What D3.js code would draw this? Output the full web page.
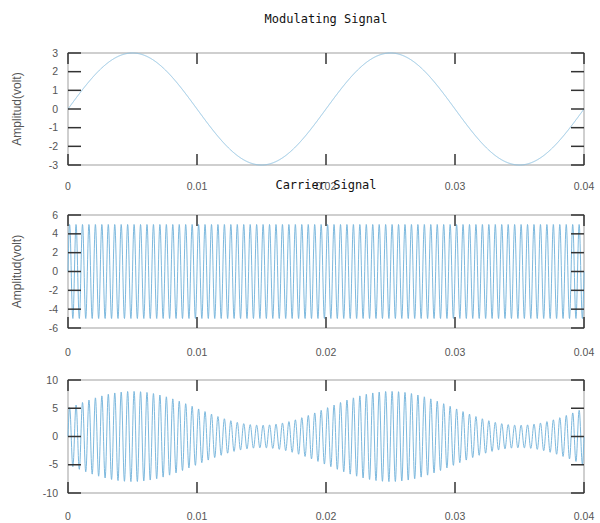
<!DOCTYPE html>
<html>
<head>
<meta charset="utf-8">
<script src="https://cdn.jsdelivr.net/npm/d3@7"></script>
<style>
  body { margin: 0; background: #fff; }
  svg { display: block; }
  .tick-label { font-family: "Liberation Sans", Arial, sans-serif; font-size: 10.5px; fill: #555; }
  .ylabel { font-family: "Liberation Sans", Arial, sans-serif; font-size: 12px; fill: #555; }
  .title { font-family: "DejaVu Sans Mono", monospace; font-size: 12px; fill: #111; }
</style>
</head>
<body>
<svg width="600" height="523"></svg>
<script>
// signal parameters
const timeRange = [0, 0.04];
const timeStep = 0.00002;
const modAmplitude = 3;      // volts
const modFrequency = 50;     // Hz (2 periods in 0.04 s)
const carrierAmplitude = 5;  // volts
const carrierFrequency = 2000; // Hz (~20 cycles per 0.01 s)

const xTicks = [0, 0.01, 0.02, 0.03, 0.04];
const xTickLabels = ["0", "0.01", "0.02", "0.03", "0.04"];
const titles = ["Modulating Signal", "Carrier Signal", ""];
const yLabels = ["Amplitud(volt)", "Amplitud(volt)", ""];
const yDomains = [[-3, 3], [-6, 6], [-10, 10]];
const yTicks = [[-3, -2, -1, 0, 1, 2, 3], [-6, -4, -2, 0, 2, 4, 6], [-10, -5, 0, 5, 10]];

const times = d3.range(timeRange[0], timeRange[1] + timeStep / 2, timeStep);
const modulating = times.map(t => modAmplitude * Math.sin(2 * Math.PI * modFrequency * t));
const carrier = times.map(t => carrierAmplitude * Math.sin(2 * Math.PI * carrierFrequency * t));
const modulated = times.map((t, i) => (carrierAmplitude + modulating[i]) * Math.sin(2 * Math.PI * carrierFrequency * t));
const series = [modulating, carrier, modulated];

const svg = d3.select("svg");
const x = d3.scaleLinear().domain(timeRange).range([68, 584]);
const panels = [
  { top: 53, bottom: 165, labelY: 190, titleY: 23 },
  { top: 215, bottom: 328, labelY: 356, titleY: 189 },
  { top: 380, bottom: 493, labelY: 520, titleY: 0 }
];

panels.forEach((p, k) => {
  const y = d3.scaleLinear().domain(yDomains[k]).range([p.bottom, p.top]);
  const g = svg.append("g");

  // frame
  g.append("rect")
    .attr("x", x.range()[0]).attr("y", p.top)
    .attr("width", x.range()[1] - x.range()[0]).attr("height", p.bottom - p.top)
    .attr("fill", "none").attr("stroke", "#b0b0b0").attr("stroke-width", 1.2);

  // signal
  const line = d3.line().x((d, i) => x(times[i])).y(d => y(d));
  g.append("path")
    .datum(series[k])
    .attr("d", line)
    .attr("fill", "none")
    .attr("stroke", k === 0 ? "#8ec3e3" : "#7db9de")
    .attr("stroke-width", 1);

  // x ticks, inward from top and bottom
  xTicks.forEach(t => {
    g.append("line").attr("x1", x(t)).attr("x2", x(t)).attr("y1", p.bottom).attr("y2", p.bottom - 11)
      .attr("stroke", "#333").attr("stroke-width", 1.5);
    g.append("line").attr("x1", x(t)).attr("x2", x(t)).attr("y1", p.top).attr("y2", p.top + 11)
      .attr("stroke", "#333").attr("stroke-width", 1.5);
  });
  g.selectAll(".xl").data(xTicks).enter().append("text")
    .attr("class", "tick-label")
    .attr("x", d => x(d)).attr("y", p.labelY)
    .attr("text-anchor", "middle")
    .text((d, i) => xTickLabels[i]);

  // y ticks, inward from left and right
  yTicks[k].forEach(v => {
    g.append("line").attr("x1", x.range()[0]).attr("x2", x.range()[0] + 13).attr("y1", y(v)).attr("y2", y(v))
      .attr("stroke", "#333").attr("stroke-width", 1.5);
    g.append("line").attr("x1", x.range()[1]).attr("x2", x.range()[1] - 13).attr("y1", y(v)).attr("y2", y(v))
      .attr("stroke", "#333").attr("stroke-width", 1.5);
  });
  g.selectAll(".yl").data(yTicks[k]).enter().append("text")
    .attr("class", "tick-label")
    .attr("x", 58).attr("y", d => y(d) + 3.5)
    .attr("text-anchor", "end")
    .text(d => d);

  if (yLabels[k]) {
    const cy = (p.top + p.bottom) / 2;
    g.append("text").attr("class", "ylabel")
      .attr("transform", `translate(21,${cy}) rotate(-90)`)
      .attr("text-anchor", "middle")
      .text(yLabels[k]);
  }
  if (titles[k]) {
    g.append("text").attr("class", "title")
      .attr("x", 326).attr("y", p.titleY)
      .attr("text-anchor", "middle")
      .text(titles[k]);
  }
});
</script>
</body>
</html>
